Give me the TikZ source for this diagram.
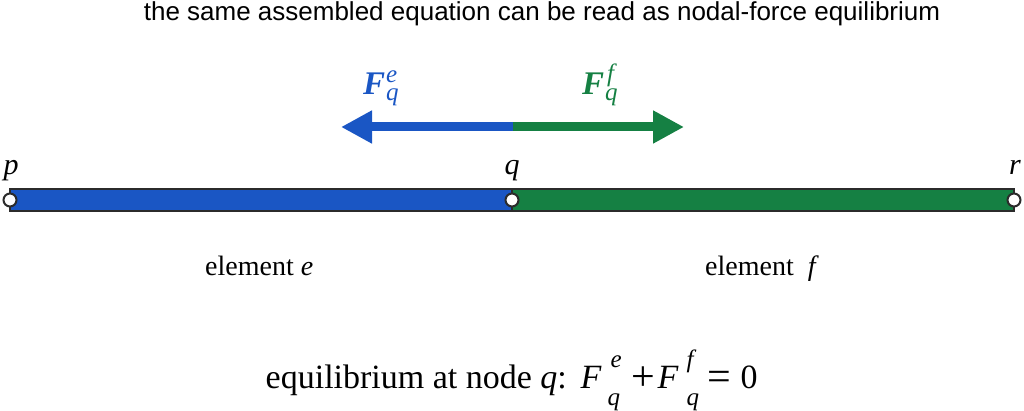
\documentclass[tikz,border=0pt]{standalone}
\usepackage{fontspec}
\setmainfont{Liberation Serif}
\newfontfamily\titlefont{Liberation Sans}
\usetikzlibrary{arrows.meta}
\definecolor{eblue}{HTML}{1A56C4}
\definecolor{fgreen}{HTML}{158043}
\definecolor{edgegray}{HTML}{2B2B2B}
\newcommand{\scrfont}{\fontsize{25}{28}\selectfont\mdseries\itshape}
\newcommand{\bigop}[1]{\raisebox{-2.5pt}{\fontsize{42}{44}\selectfont #1}}
\newcommand{\at}[2]{\makebox[0pt][l]{\hspace{#1pt}#2}}
\tikzset{
  bar/.style={draw=edgegray, line width=2.2pt},
  joint/.style={circle, draw=edgegray, fill=white, line width=2pt, minimum size=13pt, inner sep=0pt},
  force/.style={line width=9pt},
  nodelbl/.style={font=\fontsize{30}{33}\selectfont\itshape, inner sep=0pt, anchor=base},
  elemlbl/.style={font=\fontsize{28}{31}\selectfont, inner sep=0pt, anchor=base west},
  flbl/.style={font=\fontsize{33}{36}\selectfont\bfseries\itshape, inner sep=0pt, anchor=base west},
  eqlbl/.style={font=\fontsize{34}{38}\selectfont, inner sep=0pt, anchor=base west}
}
\begin{document}
\begin{tikzpicture}[x=1pt,y=-1pt]
\useasboundingbox (0,0) rectangle (1024,411);
\node[font=\titlefont\fontsize{26}{29}\selectfont, inner sep=0pt, anchor=base] (title) at (542,21) {the same assembled equation can be read as nodal-force equilibrium};
% bars
\coordinate (p) at (10,200);
\coordinate (q) at (512,200);
\coordinate (r) at (1014,200);
\fill[eblue] (10,189) rectangle (512,211);
\fill[fgreen] (512,189) rectangle (1014,211);
\draw[bar] (10,189) rectangle (1014,211);
\draw[edgegray, line width=1.2pt] (512,189) -- (512,211);
\node[joint] (pc) at (p) {};
\node[joint] (qc) at (q) {};
\node[joint] (rc) at (r) {};
\node[nodelbl] (pl) at (11,175) {p};
\node[nodelbl] (ql) at (512,175) {q};
\node[nodelbl] (rl) at (1015,175) {r};
% forces
\coordinate (fq) at (513,127);
\coordinate (fe) at (341,127);
\coordinate (ff) at (684,127);
\draw[force, eblue, -{Triangle[length=31pt,width=31pt]}] (fq) -- (fe);
\draw[force, fgreen, -{Triangle[length=31pt,width=31pt]}] (fq) -- (ff);
\node[flbl, text=eblue] (fel) at (363,95) {F\kern1pt\rlap{\raisebox{12pt}{\scrfont e}}\raisebox{-6pt}{\scrfont q}};
\node[flbl, text=fgreen] (ffl) at (582,95) {F\kern1pt\rlap{\raisebox{13pt}{\scrfont \kern2pt f}}\raisebox{-6pt}{\scrfont q}};
% element labels
\node[elemlbl] (el) at (205,276) {element \textit{e}};
\node[elemlbl] (fl) at (705,276) {element\hspace{14pt}\textit{f}};
% equation
\node[eqlbl] (eq) at (265,388) {\at{0}{equilibrium at node \textit{q}:}%
\at{315}{\textit{F}}%
\at{345}{\raisebox{21pt}{\scrfont e}}%
\at{342}{\raisebox{-17pt}{\scrfont q}}%
\at{366}{\bigop{+}}%
\at{392}{\textit{F}}%
\at{421}{\raisebox{21pt}{\scrfont f}}%
\at{421}{\raisebox{-17pt}{\scrfont q}}%
\at{442}{\bigop{=}}%
\at{475}{0}%
\hspace{492pt}};
\end{tikzpicture}
\end{document}
